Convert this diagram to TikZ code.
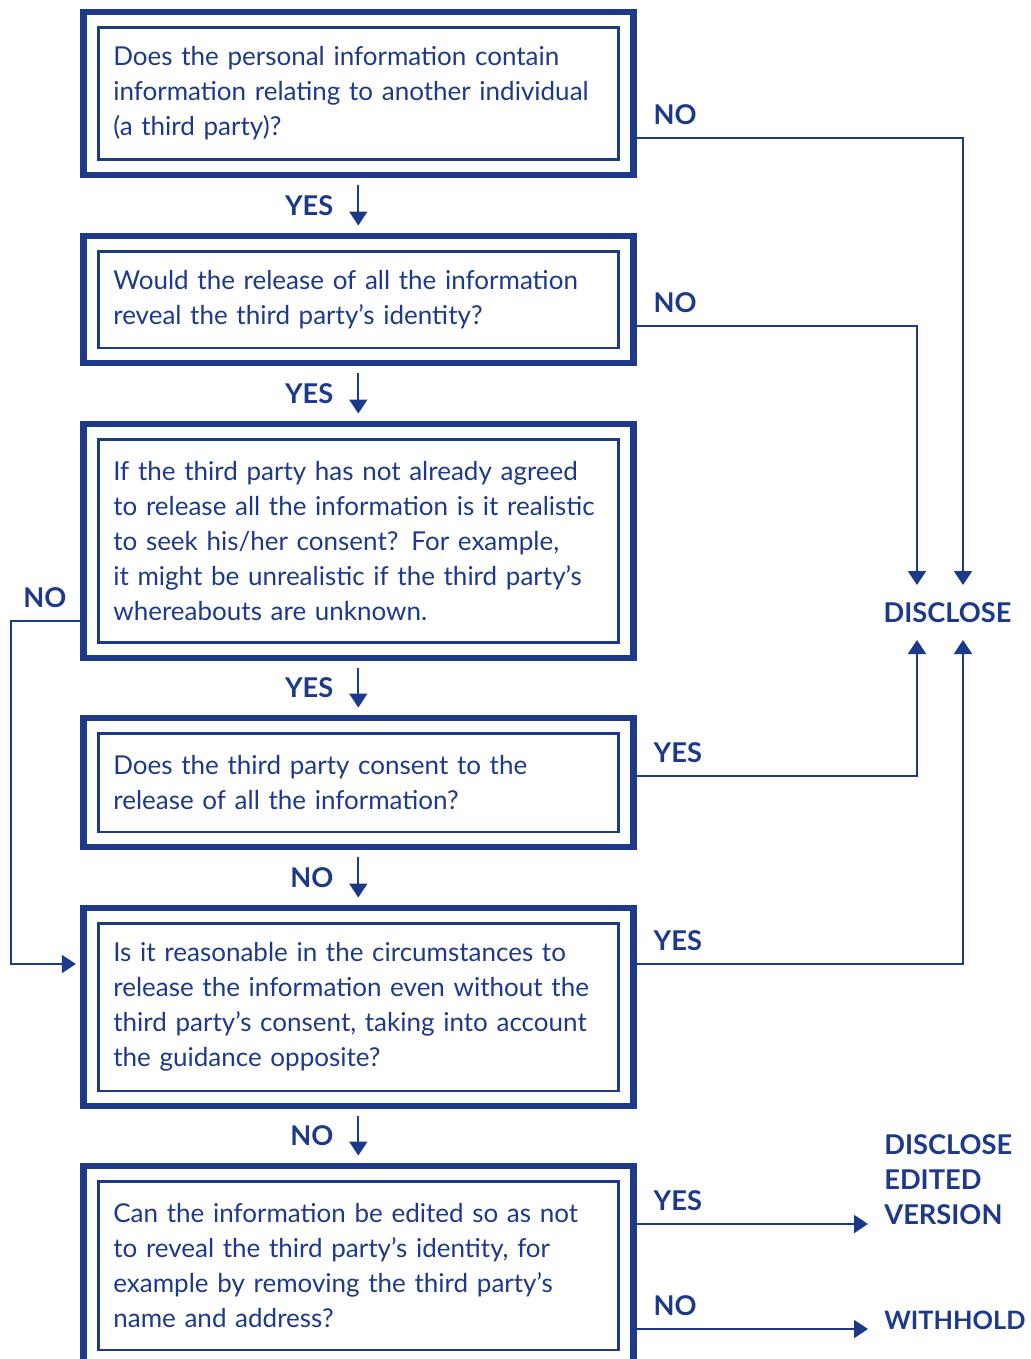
\documentclass[tikz,border=0pt]{standalone}
\usepackage{fontspec}
\setmainfont{Lato}
\usetikzlibrary{arrows.meta,fit,positioning}
\definecolor{icoblue}{RGB}{29,57,138}

\begin{document}
\begin{tikzpicture}[x=0.02cm, y=-0.02cm,
	every node/.style={text=icoblue},
	question/.style={draw=icoblue, line width=1.7pt, outer sep=0pt, inner xsep=0.3cm, text width=9.8cm, align=left, minimum width=10.4cm, font=\fontsize{14.8}{19.92}\selectfont},
	frame/.style={draw=icoblue, line width=3.8pt, inner sep=0.3cm, outer sep=0pt},
	answer/.style={inner sep=0pt, font=\bfseries\fontsize{15.5}{19.92}\selectfont},
	link/.style={draw=icoblue, line width=1.1pt, -{Triangle[length=0.28cm, width=0.36cm]}},
	down/.style={link, shorten <=0.21cm, shorten >=0.21cm}]
		%%%%% START %%%%%
		\useasboundingbox (0,0) rectangle (1031,1359);
		\clip (0,0) rectangle (1031,1359);
		
		\node[question, minimum height=2.66cm] (q1) at (358.3,93.5) {Does the personal information contain\\ information relating to another individual\\ (a third party)?};
		\node[question, minimum height=1.94cm] (q2) at (358.3,299.5) {Would the release of all the information\\ reveal the third party's identity?};
		\node[question, minimum height=4.08cm] (q3) at (358.3,541) {If the third party has not already agreed\\ to release all the information is it realistic\\ to seek his/her consent? For example,\\ it might be unrealistic if the third party's\\ whereabouts are unknown.};
		\node[question, minimum height=1.98cm] (q4) at (358.3,782.5) {Does the third party consent to the\\ release of all the information?};
		\node[question, minimum height=3.36cm] (q5) at (358.3,1007) {Is it reasonable in the circumstances to\\ release the information even without the\\ third party's consent, taking into account\\ the guidance opposite?};
		\node[question, minimum height=3.38cm] (q6) at (358.3,1265.5) {Can the information be edited so as not\\ to reveal the third party's identity, for\\ example by removing the third party's\\ name and address?};
		
		\node[frame, fit=(q1)] (f1) {};
		\node[frame, fit=(q2)] (f2) {};
		\node[frame, fit=(q3)] (f3) {};
		\node[frame, fit=(q4)] (f4) {};
		\node[frame, fit=(q5)] (f5) {};
		\node[frame, fit=(q6)] (f6) {};
		
		\node[answer] (dis) at (947.5,613) {DISCLOSE};
		\node[answer, anchor=west, align=left] (ed) at (884,1180) {DISCLOSE\\ EDITED\\ VERSION};
		\node[answer, anchor=west, font=\bfseries\fontsize{14.4}{19.92}\selectfont] (wh) at (884,1320) {WITHHOLD};
		
		\coordinate (tipA) at (963,585);
		\coordinate (tipB) at (917,585);
		\coordinate (tipC) at (917,640);
		\coordinate (tipD) at (963,640);
		
		\draw[down] (f1.south) -- node[answer, left=0.48cm] {YES} (f2.north);
		\draw[down] (f2.south) -- node[answer, left=0.48cm] {YES} (f3.north);
		\draw[down] (f3.south) -- node[answer, left=0.48cm] {YES} (f4.north);
		\draw[down] (f4.south) -- node[answer, left=0.48cm] {NO} (f5.north);
		\draw[down] (f5.south) -- node[answer, left=0.48cm] {NO} (f6.north);
		
		\draw[link] (f1.east |- 0,138) node[answer, above right=0.24cm and 0.39cm] {NO} -| (tipA);
		\draw[link] (f2.east |- 0,326) node[answer, above right=0.24cm and 0.39cm] {NO} -| (tipB);
		\draw[link] (f4.east |- 0,776) node[answer, above right=0.24cm and 0.39cm] {YES} -| (tipC);
		\draw[link] (f5.east |- 0,964) node[answer, above right=0.24cm and 0.39cm] {YES} -| (tipD);
		\draw[link, shorten >=0.15cm] (f3.west |- 0,621) node[answer, above left=0.24cm and 0.32cm] {NO} -- ++(-72.3,0) |- (f5.west |- 0,964);
		\draw[link, shorten >=0.32cm] (f6.east |- 0,1224) node[answer, above right=0.24cm and 0.39cm] {YES} -- (ed.west |- 0,1224);
		\draw[link, shorten >=0.32cm] (f6.east |- 0,1329) node[answer, above right=0.24cm and 0.39cm] {NO} -- (wh.west |- 0,1329);
		
		%%%%% END %%%%%
\end{tikzpicture}
\end{document}
